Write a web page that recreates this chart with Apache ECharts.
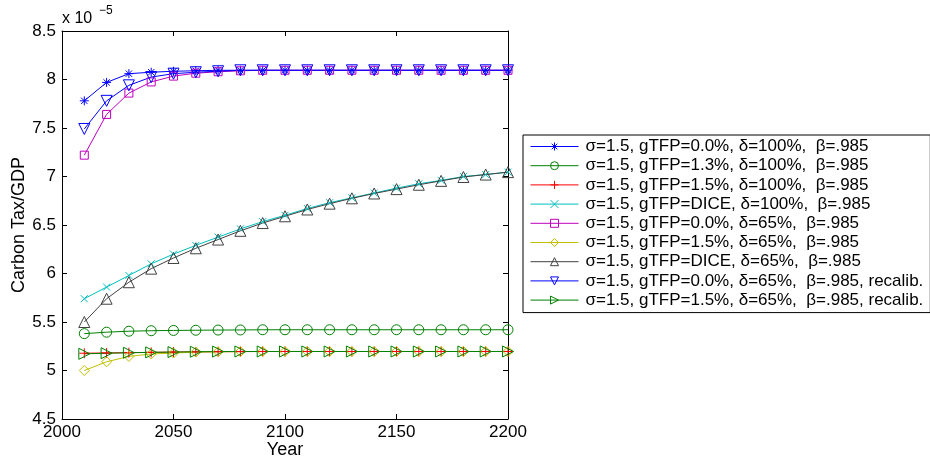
<!DOCTYPE html>
<html><head><meta charset="utf-8">
<script src="https://cdn.jsdelivr.net/npm/echarts@6/dist/echarts.min.js"></script>
<style>html,body{margin:0;padding:0;background:#fff}#c{width:930px;height:460px}</style>
</head><body><div id="c"></div>
<script>
const years = [2010,2020,2030,2040,2050,2060,2070,2080,2090,2100,2110,2120,2130,2140,2150,2160,2170,2180,2190,2200];
const xTicks = [2000, 2050, 2100, 2150, 2200];
const yTicks = [4.5, 5, 5.5, 6, 6.5, 7, 7.5, 8, 8.5];

const sName = [
  'σ=1.5, gTFP=0.0%, δ=100%,  β=.985',
  'σ=1.5, gTFP=1.3%, δ=100%,  β=.985',
  'σ=1.5, gTFP=1.5%, δ=100%,  β=.985',
  'σ=1.5, gTFP=DICE, δ=100%,  β=.985',
  'σ=1.5, gTFP=0.0%, δ=65%,  β=.985',
  'σ=1.5, gTFP=1.5%, δ=65%,  β=.985',
  'σ=1.5, gTFP=DICE, δ=65%,  β=.985',
  'σ=1.5, gTFP=0.0%, δ=65%,  β=.985, recalib.',
  'σ=1.5, gTFP=1.5%, δ=65%,  β=.985, recalib.'
];

const s1 = [7.78,7.97,8.06,8.075,8.085,8.09,8.095,8.095,8.095,8.095,8.095,8.095,8.095,8.095,8.095,8.095,8.095,8.095,8.095,8.095];
const s2 = [5.38,5.395,5.405,5.41,5.413,5.415,5.417,5.418,5.42,5.42,5.42,5.42,5.42,5.42,5.42,5.42,5.42,5.42,5.42,5.42];
const s3 = [5.178,5.181,5.184,5.187,5.19,5.192,5.194,5.195,5.196,5.196,5.196,5.196,5.196,5.196,5.196,5.196,5.196,5.196,5.196,5.196];
const s4 = [5.74,5.86,5.98,6.10,6.20,6.29,6.375,6.46,6.535,6.60,6.67,6.73,6.78,6.83,6.88,6.925,6.96,7.00,7.02,7.045];
const s5 = [7.22,7.64,7.86,7.975,8.035,8.065,8.08,8.09,8.095,8.095,8.095,8.095,8.095,8.095,8.095,8.095,8.095,8.095,8.095,8.095];
const s6 = [5.0,5.09,5.145,5.17,5.18,5.19,5.193,5.195,5.196,5.196,5.196,5.196,5.196,5.196,5.196,5.196,5.196,5.196,5.196,5.196];
const s7 = [5.50,5.74,5.91,6.05,6.16,6.26,6.35,6.44,6.52,6.59,6.66,6.72,6.775,6.825,6.87,6.915,6.955,6.995,7.02,7.045];
const s8 = [7.49,7.78,7.94,8.025,8.06,8.075,8.085,8.095,8.095,8.095,8.095,8.095,8.095,8.095,8.095,8.095,8.095,8.095,8.095,8.095];
const s9 = [5.172,5.178,5.183,5.187,5.19,5.193,5.195,5.196,5.196,5.196,5.196,5.196,5.196,5.196,5.196,5.196,5.196,5.196,5.196,5.196];

const values = [s1,s2,s3,s4,s5,s6,s7,s8,s9];
const colors = ['#0000ff','#008000','#ff0000','#00bfbf','#bf00bf','#bfbf00','#404040','#0000ff','#008000'];
const symbols = [
  'path://M0,-1L0,1M-1,0L1,0M-0.7,-0.7L0.7,0.7M-0.7,0.7L0.7,-0.7',
  'circle',
  'path://M0,-1L0,1M-1,0L1,0',
  'path://M-1,-1L1,1M-1,1L1,-1',
  'rect',
  'diamond',
  'path://M0,0L1,-1.7L2,0Z',
  'path://M0,0L2,0L1,1.7Z',
  'path://M0,0L1.7,1L0,2Z'
];
const sizes = [9,10,10,7,8,10,11,11,11];

const FONT = 'Liberation Sans, Arial, sans-serif';
const CLEAR = 'rgba(0,0,0,0)';

const series = values.map((v, i) => ({
  name: sName[i],
  type: 'line',
  xAxisIndex: 0, yAxisIndex: 0,
  data: years.map((y, k) => [y, v[k]]),
  symbol: symbols[i],
  symbolSize: sizes[i],
  showAllSymbol: true,
  lineStyle: { color: colors[i], width: 1 },
  itemStyle: { color: CLEAR, borderColor: colors[i], borderWidth: 1 },
  emphasis: { disabled: true },
  animation: false
}));

const legendData = sName.map((n, i) => ({
  name: n,
  itemStyle: { color: CLEAR, borderColor: colors[i], borderWidth: 1 },
  lineStyle: { color: colors[i], width: 1 }
}));

const chart = echarts.init(document.getElementById('c'), null, { renderer: 'canvas' });
const axisCommon = {
  axisLine: { show: true, lineStyle: { color: '#000', width: 1 } },
  axisTick: { show: true, inside: true, length: 5, lineStyle: { color: '#000' } },
  splitLine: { show: false }
};
chart.setOption({
  animation: false,
  backgroundColor: '#fff',
  textStyle: { fontFamily: FONT },
  grid: { left: 62, right: 422, top: 31, bottom: 41, containLabel: false, outerBoundsMode: 'none' },
  xAxis: [
    Object.assign({
      type: 'value', min: xTicks[0], max: xTicks[xTicks.length - 1], interval: 50,
      position: 'bottom',
      name: 'Year', nameLocation: 'middle', nameGap: 22, nameMoveOverlap: false,
      nameTextStyle: { fontSize: 18, color: '#000', fontFamily: FONT },
      axisLabel: { fontSize: 17, color: '#000', margin: 5, fontFamily: FONT, formatter: v => String(v) }
    }, axisCommon),
    Object.assign({
      type: 'value', min: xTicks[0], max: xTicks[xTicks.length - 1], interval: 50,
      position: 'top', axisLabel: { show: false }
    }, axisCommon)
  ],
  yAxis: [
    Object.assign({
      type: 'value', min: yTicks[0], max: yTicks[yTicks.length - 1], interval: 0.5,
      position: 'left',
      name: 'Carbon Tax/GDP', nameLocation: 'middle', nameGap: 34, nameMoveOverlap: false,
      nameTextStyle: { fontSize: 18, color: '#000', fontFamily: FONT },
      axisLabel: { fontSize: 17, color: '#000', margin: 6, fontFamily: FONT, formatter: v => String(v) }
    }, axisCommon),
    Object.assign({
      type: 'value', min: yTicks[0], max: yTicks[yTicks.length - 1], interval: 0.5,
      position: 'right', axisLabel: { show: false }
    }, axisCommon)
  ],
  legend: {
    orient: 'vertical',
    left: 523, top: 135,
    padding: [3, 7, 4, 7],
    itemWidth: 48, itemHeight: 10, itemGap: 2.2,
    backgroundColor: '#fff',
    borderColor: '#000', borderWidth: 1,
    textStyle: { fontSize: 17, color: '#000', fontFamily: FONT, padding: [0, 0, 0, 2] },
    selectedMode: false,
    data: legendData
  },
  graphic: [
    { type: 'text', left: 62, top: 11, style: { text: 'x 10', fontSize: 16, fill: '#000', fontFamily: FONT } },
    { type: 'text', left: 99, top: 5, style: { text: '−5', fontSize: 12, fill: '#000', fontFamily: FONT } }
  ],
  series: series
});
</script>
</body></html>
